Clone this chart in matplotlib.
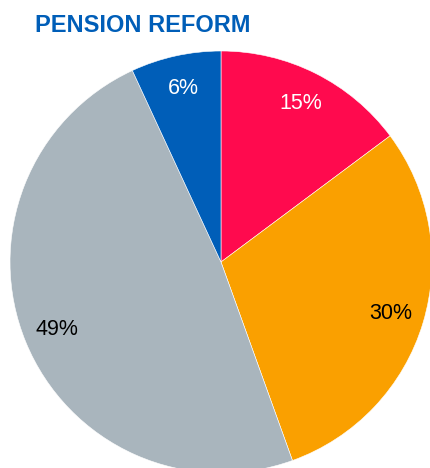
import matplotlib
matplotlib.use("Agg")
import matplotlib.pyplot as plt

labels = ["15%", "30%", "49%", "6%"]
values = [14.8, 29.7, 48.6, 6.9]
colors = ["#FF0A4E", "#FAA000", "#A9B5BD", "#005EB8"]
text_colors = ["white", "black", "black", "white"]

plt.rcParams["font.family"] = ["Liberation Sans", "DejaVu Sans"]

fig = plt.figure(figsize=(4.30, 4.68), dpi=100)
# pie centre at (221, 262) px from top-left, radius 211 px
ax = fig.add_axes([10 / 430, -5 / 468, 422 / 430, 422 / 468])

wedges, texts = ax.pie(values, labels=labels, colors=colors, startangle=90,
                       counterclock=False, labeldistance=0.84, radius=1,
                       wedgeprops=dict(edgecolor="white", linewidth=0.4),
                       textprops=dict(fontsize=15.5))
for t, c in zip(texts, text_colors):
    t.set_color(c)
    t.set_horizontalalignment("center")
    t.set_verticalalignment("center")
for w in wedges:
    w.set_clip_on(False)
ax.set_xlim(-1, 1)
ax.set_ylim(-1, 1)
ax.axis("off")

fig.text(35 / 430, 1 - 32 / 468, "PENSION REFORM", color="#005EB8",
         fontsize=17, fontweight="bold", va="baseline", ha="left")

fig.savefig("out.png", dpi=100)
